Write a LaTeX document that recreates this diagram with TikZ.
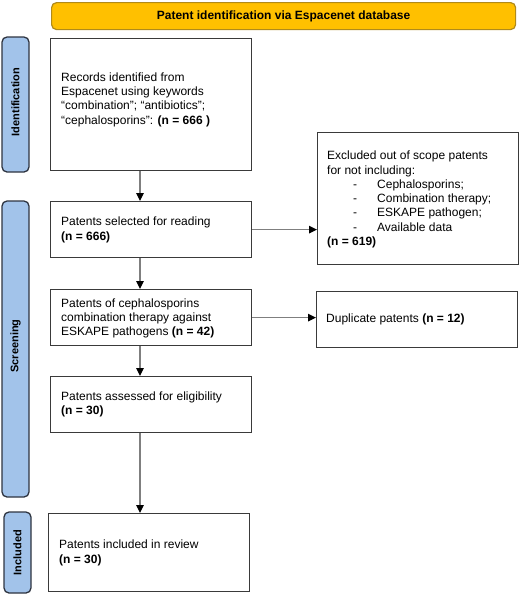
\documentclass[tikz,border=0pt]{standalone}
\usepackage{fontspec}
\setmainfont{Liberation Sans}
\usetikzlibrary{arrows.meta,calc}
\definecolor{banfill}{HTML}{FFC000}
\definecolor{banline}{HTML}{B08A1A}
\definecolor{sidefill}{HTML}{A2C3EA}
\definecolor{sideline}{HTML}{2E3440}
\definecolor{boxline}{HTML}{3A3A3A}
\definecolor{arrline}{HTML}{7F7F7F}
\tikzset{
  x=1pt,y=-1pt,
  frame/.style={draw=boxline,line width=1.3pt,fill=white,anchor=north west,
    inner sep=0pt,minimum width=201pt},
  txt/.style={anchor=west,align=left,inner sep=0pt,font=\fontsize{12}{14.3}\selectfont},
  sidebar/.style={draw=sideline,line width=1.3pt,fill=sidefill,rounded corners=5pt},
  sidelabel/.style={rotate=90,font=\bfseries\fontsize{11}{12}\selectfont},
  flow/.style={draw=arrline,line width=1.2pt,-{Triangle[color=black,length=8pt,width=7.5pt]}}
}
\begin{document}
\begin{tikzpicture}
\useasboundingbox (0,0) rectangle (520,595);
% banner
\node[draw=banline,line width=1.2pt,fill=banfill,rounded corners=5pt,anchor=north west,
  minimum width=464pt,minimum height=27pt,inner sep=0pt,
  font=\bfseries\fontsize{12}{14}\selectfont] (banner) at (51,2)
  {Patent identification via Espacenet database};
% side bars
\path[sidebar] (2,37) rectangle (29,172);
\node[sidelabel] (idl) at (15.5,102) {Identification};
\path[sidebar] (2,201) rectangle (29,497);
\node[sidelabel] (scl) at (15.5,346) {Screening};
\path[sidebar] (4,512) rectangle (31,593);
\node[sidelabel] (inl) at (17.5,552.5) {Included};
% boxes
\node[frame,minimum height=132pt] (b1) at (50,38) {};
\node[txt] (t1) at (61,99.5)
  {Records identified from\\Espacenet using keywords\\“combination”; “antibiotics”;\\“cephalosporins”: \textbf{(n = 666 )}};
\node[frame,minimum height=56pt] (b2) at (50,201) {};
\node[txt] (t2) at (61,230)
  {Patents selected for reading\\\textbf{(n = 666)}};
\node[frame,minimum height=132pt] (ex) at (317,132) {};
\node[txt] (tex) at (327,199.5)
  {Excluded out of scope patents\\for not including:\\
   \hspace*{26pt}-\hspace*{20pt}Cephalosporins;\\
   \hspace*{26pt}-\hspace*{20pt}Combination therapy;\\
   \hspace*{26pt}-\hspace*{20pt}ESKAPE pathogen;\\
   \hspace*{26pt}-\hspace*{20pt}Available data\\
   \textbf{(n = 619)}};
\node[frame,minimum height=56pt] (b3) at (50,289) {};
\node[txt] (t3) at (61,318.5)
  {Patents of cephalosporins\\combination therapy against\\ESKAPE pathogens \textbf{(n = 42)}};
\node[frame,minimum height=56pt] (dup) at (316,291) {};
\node[txt] (tdup) at (326,319.5)
  {Duplicate patents \textbf{(n = 12)}};
\node[frame,minimum height=56pt] (b4) at (50,376) {};
\node[txt] (t4) at (61,404.5)
  {Patents assessed for eligibility\\\textbf{(n = 30)}};
\node[frame,minimum height=78pt] (b5) at (48,513) {};
\node[txt] (t5) at (59,553)
  {Patents included in review\\\textbf{(n = 30)}};
% arrows
\coordinate (ax) at (140,0);
\draw[flow] (b1.south -| ax) -- (b2.north -| ax);
\draw[flow] (b2.south -| ax) -- (b3.north -| ax);
\draw[flow] (b3.south -| ax) -- (b4.north -| ax);
\draw[flow] (b4.south -| ax) -- (b5.north -| ax);
\draw[flow] (b2.east) -- (b2.east -| ex.west);
\draw[flow] (b3.east) -- (b3.east -| dup.west);
\end{tikzpicture}
\end{document}
